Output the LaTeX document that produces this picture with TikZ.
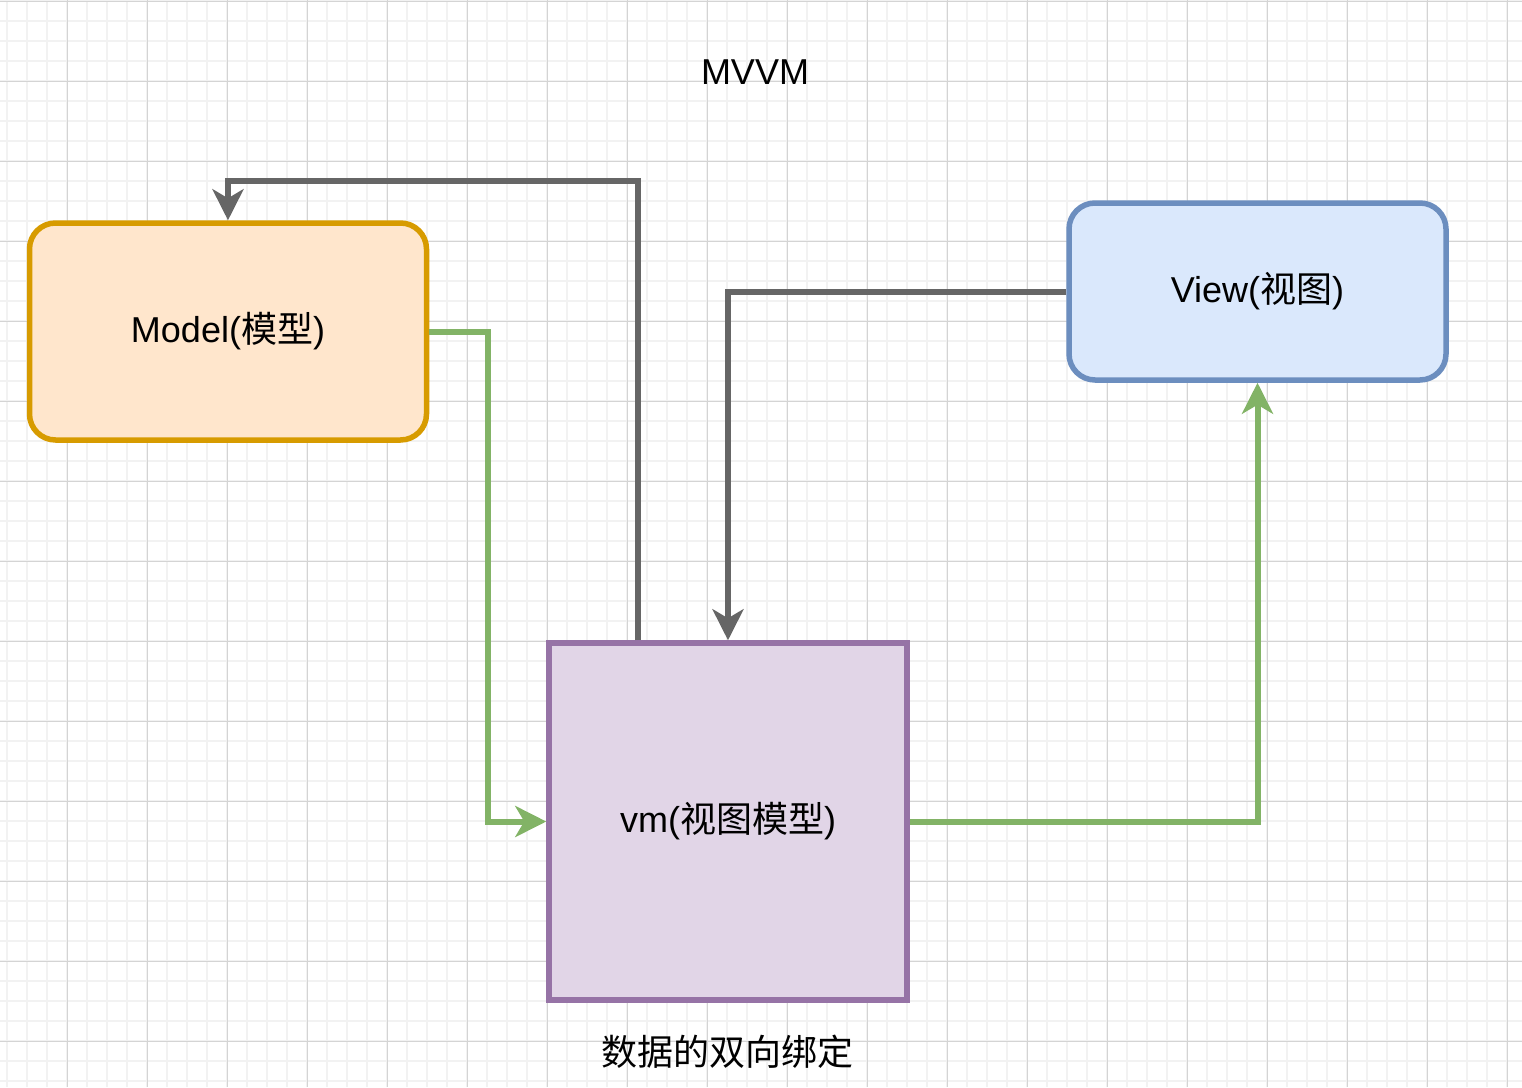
\documentclass[tikz,border=0pt]{standalone}
\usepackage{fontspec}
\setmainfont{Liberation Sans}
\newfontfamily\cjk{Noto Sans CJK SC}
\usepackage{tikz}
\usetikzlibrary{arrows.meta}
\definecolor{minor}{HTML}{F2F2F2}
\definecolor{major}{HTML}{D4D4D4}
\definecolor{orfill}{HTML}{FFE6CC}
\definecolor{ordraw}{HTML}{D79B00}
\definecolor{blfill}{HTML}{DAE8FC}
\definecolor{bldraw}{HTML}{6C8EBF}
\definecolor{pufill}{HTML}{E1D5E7}
\definecolor{pudraw}{HTML}{9673A6}
\definecolor{grn}{HTML}{82B366}
\definecolor{gry}{HTML}{666666}
\tikzset{
  big/.style={font=\fontsize{36}{42}\selectfont},
  rbox/.style={rounded corners=26pt, line width=5.5pt, big, inner sep=0pt},
  sbox/.style={line width=5.5pt, big, inner sep=0pt},
  gline/.style={draw=grn, line width=6pt, -{Stealth[length=31pt,width=31pt,inset=9pt]}},
  kline/.style={draw=gry, line width=6pt, -{Stealth[length=31pt,width=31pt,inset=9pt]}}
}

\begin{document}
\begin{tikzpicture}[x=1pt,y=-1pt]
\useasboundingbox (0,0) rectangle (1522,1087);
% grid
\foreach \i in {0,...,75} \draw[minor, line width=1.6pt] (7+20*\i,0) -- (7+20*\i,1087);
\foreach \j in {0,...,54} \draw[minor, line width=1.6pt] (0,1+20*\j) -- (1522,1+20*\j);
\foreach \i in {0,...,18} \draw[major, line width=1pt] (67+80*\i,0) -- (67+80*\i,1087);
\foreach \j in {0,...,13} \draw[major, line width=1pt] (0,1+80*\j) -- (1522,1+80*\j);
% boxes
\node[rbox, draw=ordraw, fill=orfill, minimum width=397pt, minimum height=217pt] (model) at (228,331.5) {Model({\cjk 模型})};
\node[rbox, draw=bldraw, fill=blfill, minimum width=377pt, minimum height=177pt] (view) at (1257.5,291.5) {View({\cjk 视图})};
\node[sbox, draw=pudraw, fill=pufill, minimum width=358pt, minimum height=357pt] (vm) at (728,821.5) {vm({\cjk 视图模型})};
% links
\draw[gline] (model.east) -- ++(59,0) |- (vm.west);
\draw[gline] (vm.east) -| (view.south);
\draw[kline] (view.west) -| (vm.north);
\draw[kline] ([xshift=-90pt]vm.north) |- ([yshift=39pt]model.north) -- (model.north);
% texts
\node[big] (title) at (755,72) {MVVM};
\node[big] (note) at (727,1052) {\cjk 数据的双向绑定};
\end{tikzpicture}
\end{document}
